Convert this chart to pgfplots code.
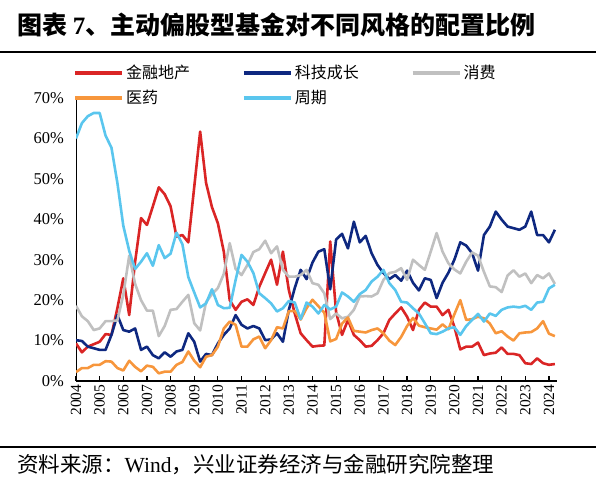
\documentclass[border=0pt]{standalone}
\usepackage{fontspec}
\setmainfont{Liberation Serif}
\newfontfamily\cjk{Noto Sans CJK SC}
\usepackage{pgfplots}
\usepackage{pgfplotstable}
\pgfplotsset{compat=1.18}

\definecolor{cfin}{RGB}{218,37,37}
\definecolor{ctech}{RGB}{14,40,128}
\definecolor{ccons}{RGB}{192,192,192}
\definecolor{cmed}{RGB}{247,150,60}
\definecolor{ccyc}{RGB}{90,198,238}

% quarterly allocation shares (%)
\pgfplotstableread{
x       fin   tech  cons  med   cyc
2004.00 9.3   10.1  18.6  2.2   60.0
2004.25 7.1   9.9   16.0  3.2   63.8
2004.50 8.5   8.5   14.8  3.2   65.5
2004.75 9.1   8.1   12.6  4.0   66.3
2005.00 9.7   7.7   13.0  4.0   66.3
2005.25 11.6  7.7   14.8  4.9   60.7
2005.50 11.4  11.4  14.8  4.8   57.7
2005.75 18.0  16.3  15.0  3.2   49.0
2006.00 25.4  12.6  21.3  2.6   38.4
2006.25 16.3  12.2  31.0  5.0   32.2
2006.50 29.5  13.0  24.0  3.5   27.7
2006.75 40.3  7.7   20.0  2.4   29.5
2007.00 38.6  8.5   17.4  3.8   31.6
2007.25 43.2  6.4   17.4  3.5   28.5
2007.50 47.9  5.6   11.1  1.9   33.6
2007.75 46.2  7.1   13.6  2.3   30.4
2008.00 43.2  6.0   17.6  2.3   31.5
2008.25 35.7  7.3   17.8  4.0   36.7
2008.50 36.1  7.7   19.6  4.7   33.8
2008.75 34.3  11.8  21.3  7.3   25.7
2009.00 48.0  9.7   14.3  5.0   21.9
2009.25 61.7  4.8   12.5  3.4   18.2
2009.50 49.0  6.7   19.5  6.0   19.2
2009.75 43.0  6.4   21.5  6.4   22.7
2010.00 39.0  9.3   23.0  8.5   18.8
2010.25 32.0  11.4  26.5  13.0  18.0
2010.50 20.0  13.0  34.1  14.7  18.1
2010.75 17.6  16.3  27.7  13.9  25.0
2011.00 19.6  13.9  26.2  8.5   31.2
2011.25 20.2  13.0  28.7  8.5   29.5
2011.50 18.8  13.6  31.9  10.3  26.7
2011.75 23.3  13.0  32.6  11.0  21.7
2012.00 26.7  10.1  34.7  8.1   20.5
2012.25 30.0  10.3  31.6  10.1  19.2
2012.50 23.8  11.8  33.3  13.3  17.2
2012.75 32.0  9.7   27.5  13.0  18.0
2013.00 22.5  17.6  25.8  17.3  19.8
2013.25 16.7  23.0  25.8  17.3  19.4
2013.50 11.8  27.5  26.2  15.2  15.3
2013.75 10.1  25.2  27.5  18.0  19.4
2014.00 8.5   29.3  24.2  20.1  18.4
2014.25 8.7   32.0  23.8  18.5  16.7
2014.50 8.8   32.6  21.7  16.9  18.8
2014.75 34.5  22.7  15.3  9.8   17.7
2015.00 17.0  35.0  16.7  10.4  18.4
2015.25 11.4  36.4  15.5  14.2  21.9
2015.50 15.1  32.8  15.9  15.7  20.9
2015.75 11.4  39.4  17.6  12.4  19.6
2016.00 10.1  34.3  20.9  12.2  21.5
2016.25 8.5   35.9  21.0  12.0  22.5
2016.50 8.7   31.6  20.9  12.6  24.6
2016.75 10.1  28.7  21.7  13.0  25.8
2017.00 11.8  26.7  25.0  11.8  27.5
2017.25 15.1  25.2  26.7  10.0  24.2
2017.50 16.7  26.2  27.0  8.9   22.5
2017.75 18.2  24.8  27.9  10.9  19.6
2018.00 15.9  27.3  25.0  13.6  19.4
2018.25 12.6  24.3  30.0  15.6  18.0
2018.50 17.6  22.4  28.7  13.7  16.7
2018.75 19.4  25.4  27.5  13.3  14.3
2019.00 18.4  25.0  32.0  13.0  11.8
2019.25 18.4  20.5  36.6  12.7  11.6
2019.50 16.3  24.3  32.0  14.0  12.2
2019.75 17.6  26.8  29.1  12.8  13.0
2020.00 13.4  30.0  27.6  16.5  13.3
2020.25 7.8   34.3  26.6  20.0  11.4
2020.50 8.5   33.5  29.5  15.1  13.6
2020.75 8.5   31.6  31.8  15.3  15.1
2021.00 9.5   27.3  31.0  15.9  16.6
2021.25 6.4   36.1  27.0  15.5  14.7
2021.50 6.8   38.2  23.4  14.2  16.7
2021.75 7.0   41.9  23.2  11.8  16.1
2022.00 8.3   39.9  22.0  12.3  17.6
2022.25 6.7   38.2  26.1  11.0  18.2
2022.50 6.7   37.8  27.4  10.0  18.4
2022.75 6.4   37.4  25.8  11.8  18.2
2023.00 4.4   38.2  26.6  12.0  18.6
2023.25 4.2   41.9  24.2  12.1  17.6
2023.50 5.6   36.1  26.2  13.0  19.4
2023.75 4.4   36.1  25.4  14.8  19.6
2024.00 4.0   34.3  26.6  11.7  22.9
2024.25 4.2   37.4  24.0  11.1  23.8
}\alloc

\begin{document}
\begin{tikzpicture}
\useasboundingbox (0,0) rectangle (596pt,489pt);

% title, rules and source line
\node[anchor=west, inner sep=0pt] at (17pt,464pt)
  {\fontsize{25pt}{29pt}\selectfont\cjk\bfseries 图表 {\rmfamily\bfseries 7}、主动偏股型基金对不同风格的配置比例};
\draw[line width=1.3pt] (0pt,437pt) -- (596pt,437pt);
\draw[line width=1.3pt] (0pt,42pt) -- (596pt,42pt);
\node[anchor=west, inner sep=0pt] at (17pt,24pt)
  {\fontsize{21.5pt}{25pt}\selectfont\cjk 资料来源：{\rmfamily Wind}，兴业证券经济与金融研究院整理};

\begin{axis}[
    at={(76pt,108pt)}, anchor=south west,
    scale only axis,
    width=481pt, height=283pt,
    xmin=2004, xmax=2024.34,
    ymin=0, ymax=70,
    axis x line=bottom, axis y line=left,
    axis line style={-},
    x axis line style={line width=1.8pt},
    y axis line style={line width=1pt},
    xtick={2004,2005,...,2024},
    ytick={0,10,...,70},
    xtick style={line width=1.2pt, black},
    xtick align=inside,
    major tick length=5pt,
    ytick style={draw=none},
    /pgf/number format/assume math mode=true,
    x tick label style={/pgf/number format/1000 sep={}, rotate=90, anchor=east, font=\fontsize{15.5pt}{17pt}\selectfont},
    yticklabel={\pgfmathprintnumber{\tick}\%},
    y tick label style={font=\fontsize{16.5pt}{18pt}\selectfont, xshift=-6pt},
    legend columns=3,
    legend style={
        at={(0,1)}, anchor=north west, xshift=-3pt, yshift=35pt,
        draw=none, fill=none, inner sep=0pt,
        font=\fontsize{16pt}{18pt}\selectfont\cjk,
        cells={anchor=west},
        row sep=6pt,
        /tikz/every even column/.append style={column sep=50pt},
    },
    legend image code/.code={\draw[#1, line width=3.8pt] (0pt,0pt) -- (47pt,0pt);},
    every axis plot/.append style={line width=2.6pt, line join=round, no markers},
]
\addplot[cfin]  table[x=x, y=fin]  {\alloc};
\addplot[ctech] table[x=x, y=tech] {\alloc};
\addplot[ccons] table[x=x, y=cons] {\alloc};
\addplot[cmed]  table[x=x, y=med]  {\alloc};
\addplot[ccyc]  table[x=x, y=cyc]  {\alloc};
\legend{金融地产, 科技成长, 消费, 医药, 周期}
\end{axis}
\end{tikzpicture}
\end{document}
